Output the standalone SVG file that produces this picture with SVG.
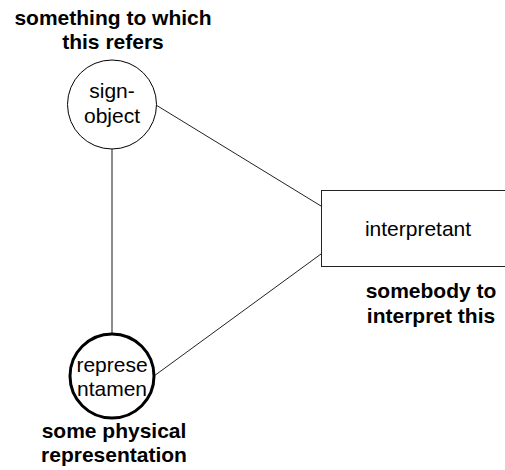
<svg xmlns="http://www.w3.org/2000/svg" width="505" height="470" viewBox="0 0 505 470">
  <style>
    .node-text { font-family: "Liberation Sans", Arial, sans-serif; font-size: 21px; fill: #000; text-anchor: middle; }
    .label { font-family: "Liberation Sans", Arial, sans-serif; font-size: 21px; font-weight: bold; fill: #000; text-anchor: middle; }
    .edge { stroke: #222; stroke-width: 1; fill: none; }
  </style>
  <rect width="505" height="470" fill="#fff"/>

  <!-- connectors -->
  <g id="connectors">
    <line class="edge" x1="112" y1="149" x2="112" y2="334" style="stroke:#666;stroke-width:1.5"/>
    <line class="edge" x1="156" y1="105" x2="321" y2="206"/>
    <line class="edge" x1="154" y1="376" x2="321" y2="254"/>
  </g>

  <!-- sign-object -->
  <g id="sign-object">
    <circle cx="112" cy="104.5" r="44.5" fill="#fff" stroke="#000" stroke-width="1"/>
    <text class="node-text" x="112" y="98">sign-</text>
    <text class="node-text" x="112" y="123">object</text>
    <text class="label" x="113" y="25">something to which</text>
    <text class="label" x="113" y="49">this refers</text>
  </g>

  <!-- interpretant -->
  <g id="interpretant">
    <rect x="321.5" y="190.5" width="200" height="76" fill="#fff" stroke="#222" stroke-width="1"/>
    <text class="node-text" x="418" y="236">interpretant</text>
    <text class="label" x="431" y="298">somebody to</text>
    <text class="label" x="431" y="323">interpret this</text>
  </g>

  <!-- representamen -->
  <g id="representamen">
    <circle cx="112" cy="376" r="42" fill="#fff" stroke="#000" stroke-width="3"/>
    <text class="node-text" x="112" y="372">represe</text>
    <text class="node-text" x="112" y="396">ntamen</text>
    <text class="label" x="114" y="438">some physical</text>
    <text class="label" x="114" y="462">representation</text>
  </g>
</svg>
